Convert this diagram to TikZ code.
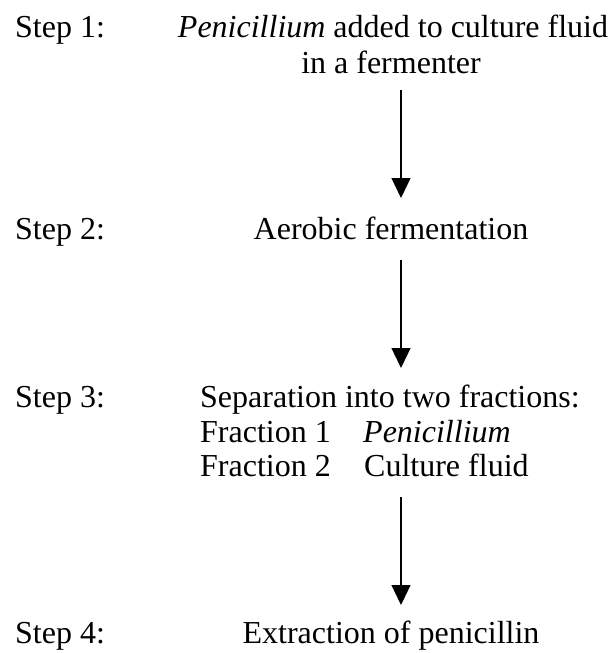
\documentclass[tikz,border=0pt]{standalone}
\usepackage{fontspec}
\setmainfont{Liberation Serif}
\usetikzlibrary{arrows.meta}
\begin{document}
\begin{tikzpicture}[x=1pt,y=-1pt,
  txt/.style={inner sep=0pt,anchor=base,font=\fontsize{32}{34}\selectfont},
  lbl/.style={txt,anchor=base west},
  flowarrow/.style={line width=1.3pt,-{Triangle[width=19pt,length=20pt]}}]
\useasboundingbox (0,0) rectangle (613,653);
% step labels
\node[lbl] (s1) at (15,37) {Step 1:};
\node[lbl] (s2) at (15,239) {Step 2:};
\node[lbl] (s3) at (15,407) {Step 3:};
\node[lbl] (s4) at (15,643) {Step 4:};
% texts
\node[txt] (t1a) at (393,37) {\textit{Penicillium} added to culture fluid};
\node[txt] (t1b) at (391,73) {in a fermenter};
\node[txt] (t2) at (391,239) {Aerobic fermentation};
\node[lbl] (t3) at (200,407) {Separation into two fractions:};
\node[lbl] (f1) at (200,442) {Fraction 1};
\node[lbl] (f1v) at (363,442) {\textit{Penicillium}};
\node[lbl] (f2) at (200,476) {Fraction 2};
\node[lbl] (f2v) at (364,476) {Culture fluid};
\node[txt] (t4) at (391,643) {Extraction of penicillin};
% arrows
\coordinate (a1s) at (401,90);  \coordinate (a1e) at (401,198);
\coordinate (a2s) at (401,260); \coordinate (a2e) at (401,368);
\coordinate (a3s) at (401,497); \coordinate (a3e) at (401,605);
\draw[flowarrow] (a1s) -- (a1e);
\draw[flowarrow] (a2s) -- (a2e);
\draw[flowarrow] (a3s) -- (a3e);
\end{tikzpicture}
\end{document}
